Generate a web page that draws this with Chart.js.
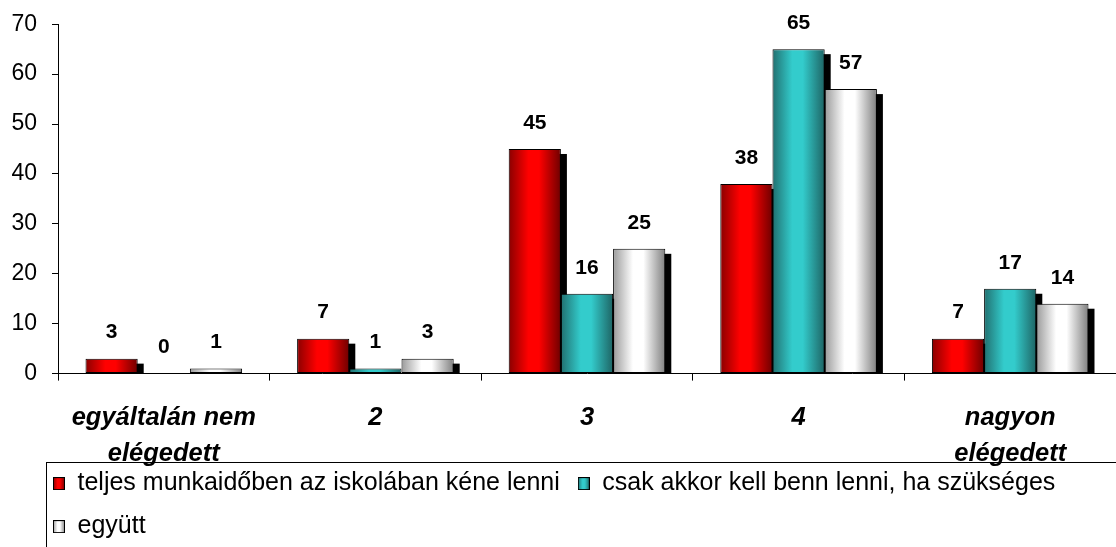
<!DOCTYPE html>
<html>
<head>
<meta charset="utf-8">
<script src="https://cdn.jsdelivr.net/npm/chart.js@4.4.1/dist/chart.umd.min.js"></script>
<style>
    html, body { margin: 0; padding: 0; background: #fff; overflow: hidden; }
    #wrap { position: relative; width: 1116px; height: 588px; }
</style>
</head>
<body>
<div id="wrap"><canvas id="satisfactionChart"></canvas></div>
<script>
// Satisfaction scale (1 = not at all satisfied ... 5 = very satisfied)
const categories = [['egyáltalán nem', 'elégedett'], '2', '3', '4', ['nagyon', 'elégedett']];
const seriesNames = [
    'teljes munkaidőben az iskolában kéne lenni',
    'csak akkor kell benn lenni, ha szükséges',
    'együtt'
];
const fullTime = [3, 7, 45, 38, 7];
const whenNeeded = [0, 1, 16, 65, 17];
const together = [1, 3, 25, 57, 14];
const yMin = 0;
const yMax = 70;
const yStep = 10;

const FONT = '"Liberation Sans", Arial, sans-serif';
const CAT_PCT = 0.74;

// dark edge -> bright middle -> darker edge, like a cylinder
const palettes = [
    ['#8a0000', '#ff0000', '#ff0000', '#6e0000'],
    ['#217070', '#33cccc', '#33cccc', '#1e6464'],
    ['#9a9a9a', '#ffffff', '#ffffff', '#7f7f7f']
];
const stopsAt = [0, 0.38, 0.58, 1];

function addStops(grad, colors) {
    colors.forEach((c, i) => grad.addColorStop(stopsAt[i], c));
    return grad;
}

function barFill(context) {
    const chart = context.chart;
    const colors = palettes[context.datasetIndex];
    const x = chart.scales.x;
    if (!x || !chart.chartArea || context.type !== 'data') {
        return colors[1];
    }
    const catW = x.getPixelForValue(1) - x.getPixelForValue(0);
    const barW = catW * CAT_PCT / 3;
    const left = x.getPixelForValue(context.dataIndex) - 1.5 * barW + context.datasetIndex * barW;
    return addStops(chart.ctx.createLinearGradient(left, 0, left + barW, 0), colors);
}

function swatch(colors) {
    const c = document.createElement('canvas');
    c.width = 12;
    c.height = 13;
    const g = c.getContext('2d');
    g.fillStyle = addStops(g.createLinearGradient(0, 0, 12, 0), colors);
    g.fillRect(0, 0, 12, 13);
    g.strokeStyle = '#000';
    g.lineWidth = 1;
    g.strokeRect(0.5, 0.5, 11, 12);
    return c;
}
const swatches = palettes.map(swatch);

// black drop shadow behind each bar, cut off at the axis
const barShadow = {
    id: 'barShadow',
    beforeDatasetsDraw(chart) {
        const { ctx, chartArea } = chart;
        ctx.save();
        ctx.beginPath();
        ctx.rect(chartArea.left, 0, chartArea.right - chartArea.left + 20, chartArea.bottom);
        ctx.clip();
        ctx.fillStyle = '#000';
        chart.data.datasets.forEach((ds, i) => {
            chart.getDatasetMeta(i).data.forEach(bar => {
                const { x, y, base, width } = bar.getProps(['x', 'y', 'base', 'width'], true);
                const top = y + 5;
                if (top >= base) return;
                ctx.fillRect(x - width / 2 + 6, top, width, base - top);
            });
        });
        ctx.restore();
    }
};

// value above each bar
const valueLabels = {
    id: 'valueLabels',
    afterDatasetsDraw(chart) {
        const ctx = chart.ctx;
        ctx.save();
        ctx.font = 'bold 21px ' + FONT;
        ctx.fillStyle = '#000';
        ctx.textAlign = 'center';
        ctx.textBaseline = 'middle';
        chart.data.datasets.forEach((ds, i) => {
            chart.getDatasetMeta(i).data.forEach((bar, j) => {
                ctx.fillText(String(ds.data[j]), bar.x, bar.y - 26);
            });
        });
        ctx.restore();
    }
};

// legend sits under the two-line category labels, indented from the left edge
const legendPlacement = {
    id: 'legendPlacement',
    afterLayout(chart) {
        const lg = chart.legend;
        const h = lg.bottom - lg.top;
        lg.left = 35;
        lg.top = chart.chartArea.bottom + 79.5;
        lg.bottom = lg.top + h;
    },
    afterDraw(chart) {
        // frame around the legend, open to the right and bottom
        const lg = chart.legend;
        const ctx = chart.ctx;
        ctx.save();
        ctx.strokeStyle = '#000';
        ctx.lineWidth = 1;
        ctx.strokeRect(Math.round(lg.left + 11) + 0.5, Math.round(lg.top + 8.5) + 0.5, chart.width, chart.height);
        ctx.restore();
    }
};

Chart.defaults.color = '#000';
Chart.defaults.font.family = FONT;

new Chart(document.getElementById('satisfactionChart'), {
    type: 'bar',
    data: {
        labels: categories,
        datasets: [fullTime, whenNeeded, together].map((values, i) => ({
            label: seriesNames[i],
            data: values,
            backgroundColor: barFill,
            borderColor: '#000',
            borderWidth: 1,
            borderSkipped: false,
            categoryPercentage: CAT_PCT,
            barPercentage: 1
        }))
    },
    options: {
        responsive: true,
        maintainAspectRatio: false,
        animation: false,
        layout: { padding: { left: 0, top: 23, right: 0, bottom: 0 } },
        plugins: {
            tooltip: { enabled: false },
            legend: {
                position: 'bottom',
                align: 'start',
                labels: {
                    usePointStyle: true,
                    boxWidth: 12,
                    boxHeight: 13,
                    pointStyleWidth: 12,
                    padding: 18,
                    color: '#000',
                    font: { family: FONT, size: 25 },
                    generateLabels: chart => chart.data.datasets.map((ds, i) => ({
                        text: ds.label,
                        pointStyle: swatches[i],
                        fillStyle: palettes[i][1],
                        strokeStyle: '#000',
                        lineWidth: 1,
                        hidden: false,
                        datasetIndex: i
                    }))
                }
            }
        },
        scales: {
            x: {
                grid: { drawOnChartArea: false, drawTicks: true, tickLength: 7, color: '#000', offset: true },
                border: { display: true, color: '#000', width: 1 },
                ticks: {
                    color: '#000',
                    padding: 20,
                    maxRotation: 0,
                    autoSkip: false,
                    font: { family: FONT, size: 25.5, weight: 'bold', style: 'italic', lineHeight: 1.4 }
                }
            },
            y: {
                min: yMin,
                max: yMax,
                grid: { drawOnChartArea: false, drawTicks: true, tickLength: 6, color: '#000' },
                border: { display: true, color: '#000', width: 1 },
                ticks: {
                    stepSize: yStep,
                    padding: 15,
                    color: '#000',
                    font: { family: FONT, size: 23, lineHeight: 0.8 }
                },
                afterFit(scale) {
                    scale.width = 58;
                }
            }
        }
    },
    plugins: [barShadow, valueLabels, legendPlacement]
});
</script>
</body>
</html>
